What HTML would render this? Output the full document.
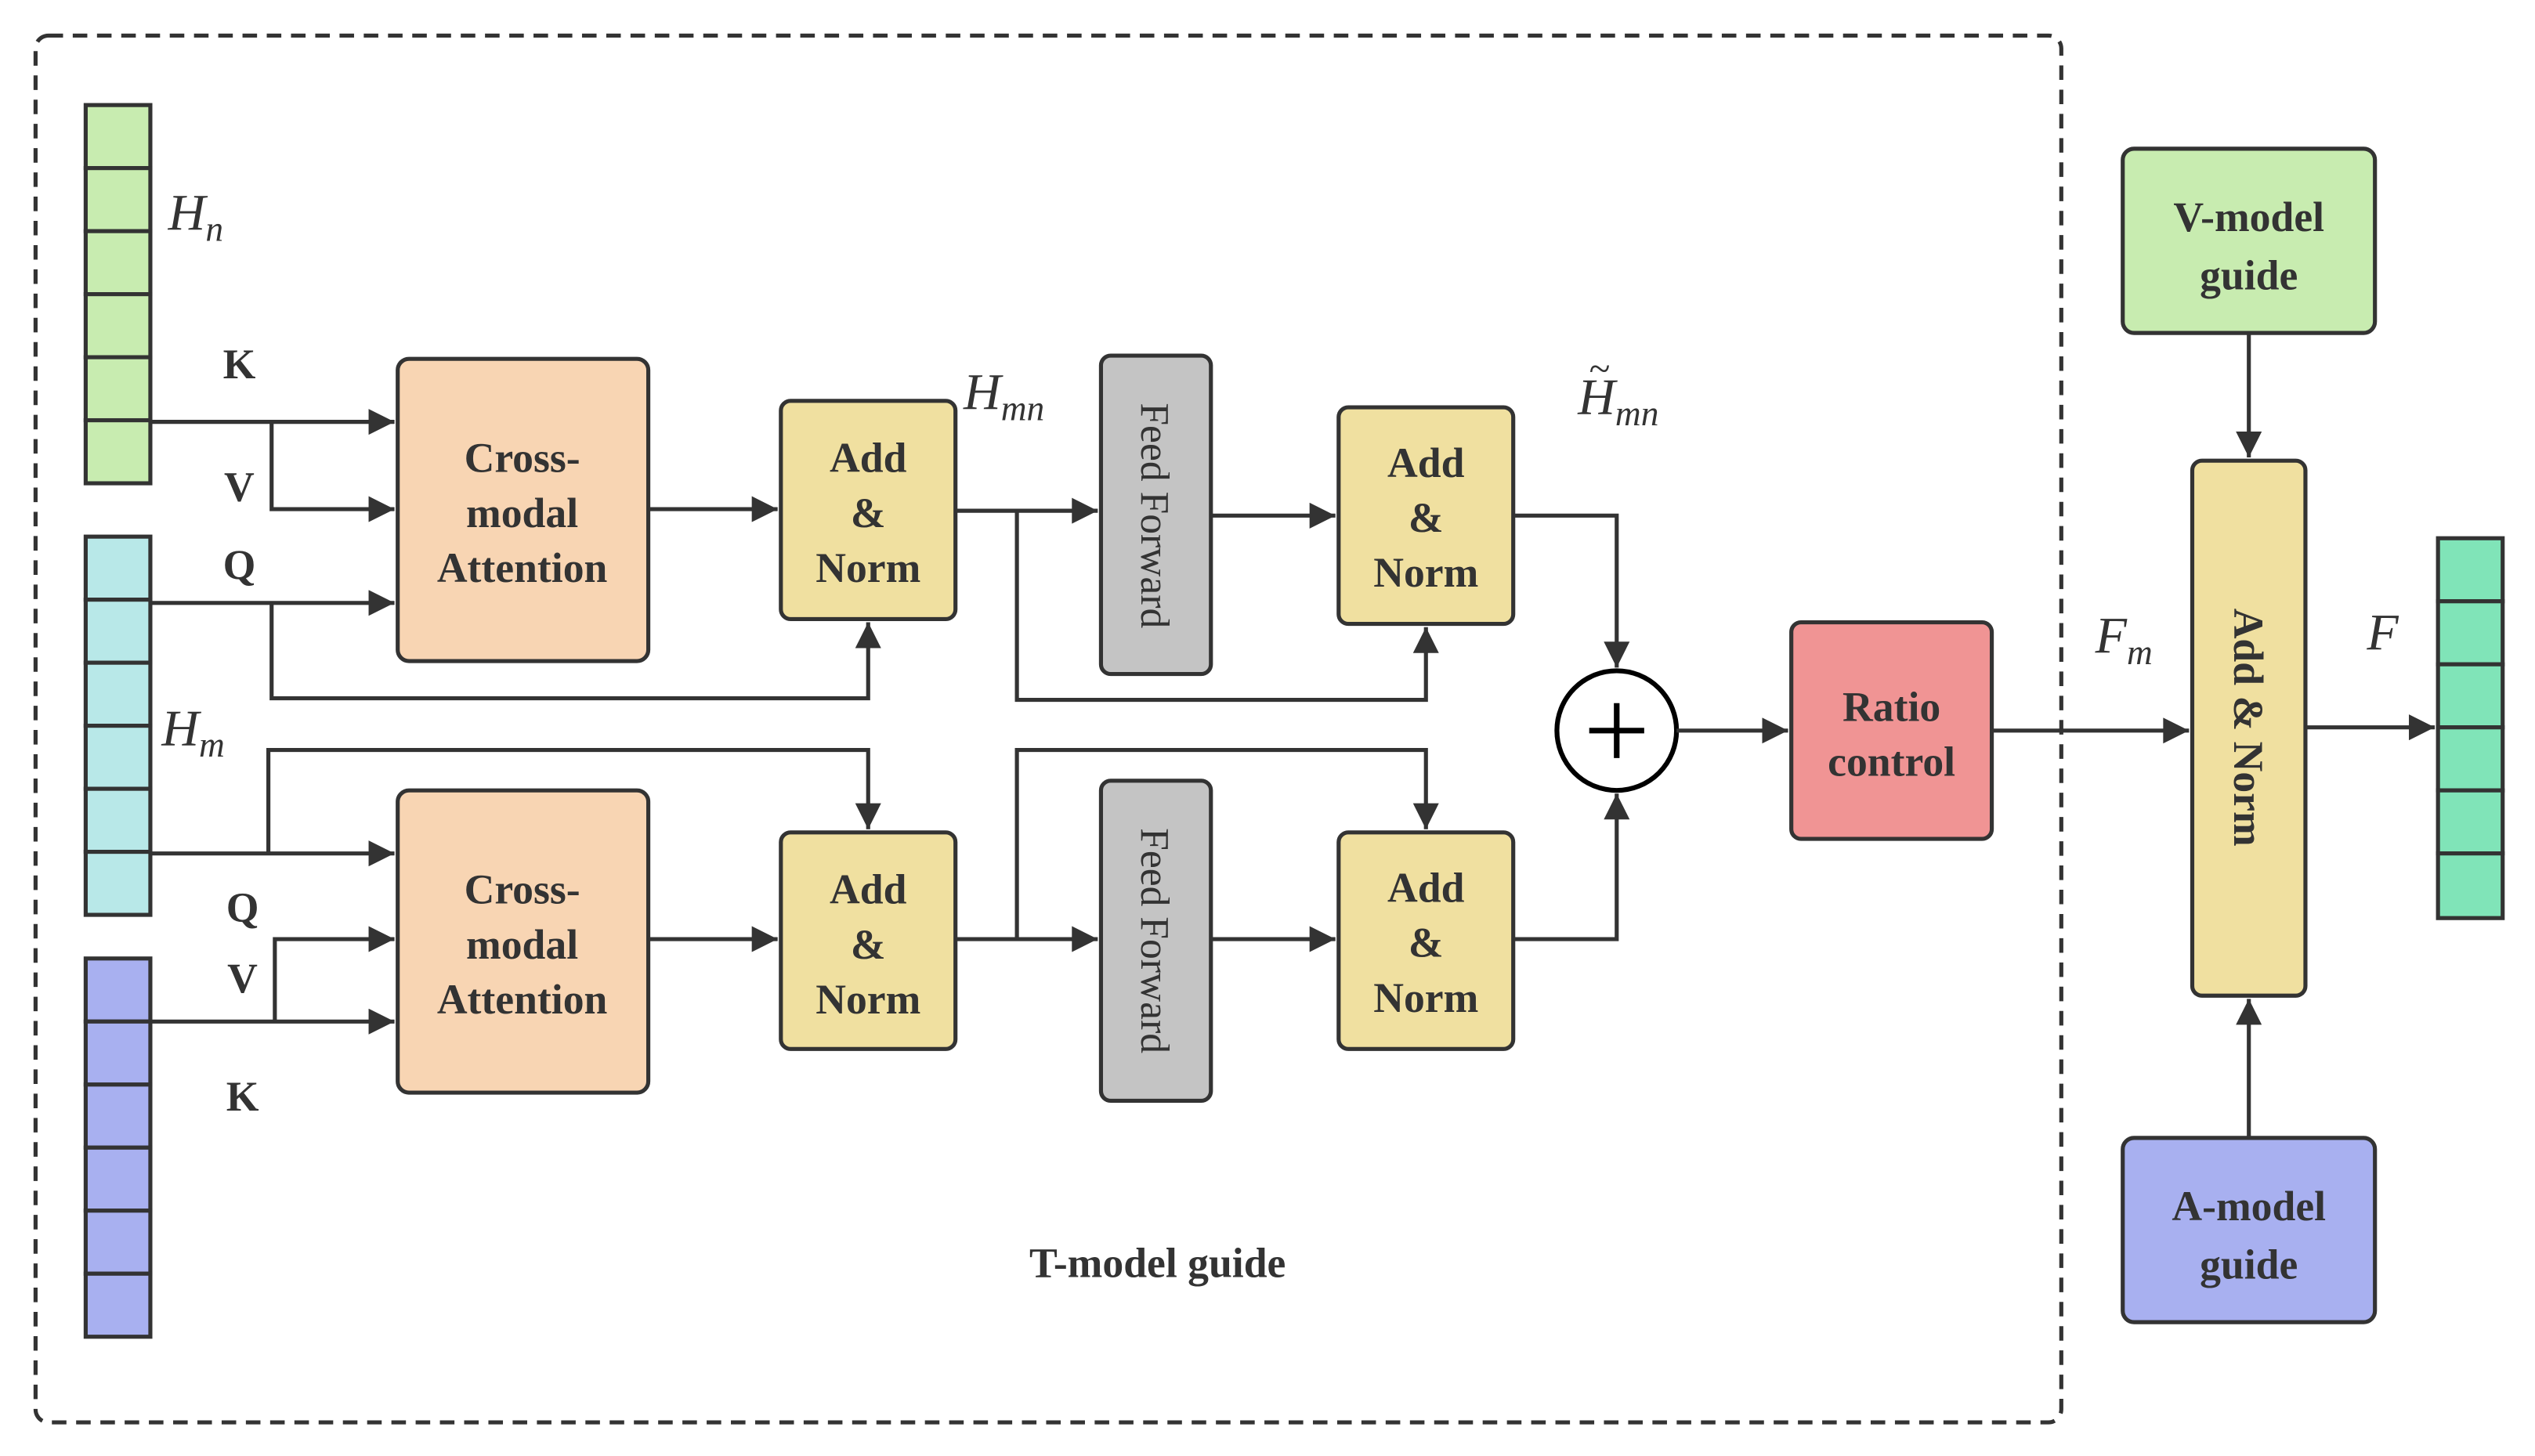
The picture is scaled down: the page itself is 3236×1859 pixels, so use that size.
<!DOCTYPE html>
<html><head><meta charset="utf-8"><style>
html,body{margin:0;padding:0;background:#fff;}
svg{display:block;}
text{font-family:"Liberation Serif",serif;fill:#333;}
.b{font-weight:bold;font-size:26px;}
.m{font-style:italic;font-size:32px;}
</style></head><body>
<svg width="3236" height="1859" viewBox="0 0 1568 900.8" preserveAspectRatio="none" xmlns="http://www.w3.org/2000/svg">
<defs>
<marker id="A" viewBox="0 0 10 10" refX="10" refY="5" markerWidth="20" markerHeight="16" orient="auto" markerUnits="userSpaceOnUse"><path d="M0,0 L10,5 L0,10 z" fill="#333"/></marker>
</defs>
<rect x="22" y="22" width="1253" height="858" rx="8" fill="none" stroke="#333" stroke-width="2.5" stroke-dasharray="9,6"/>
<g stroke="#333" stroke-width="2.5">
<g fill="#c8ecb0"><rect x="53" y="65" width="40" height="39"/><rect x="53" y="104" width="40" height="39"/><rect x="53" y="143" width="40" height="39"/><rect x="53" y="182" width="40" height="39"/><rect x="53" y="221" width="40" height="39"/><rect x="53" y="260" width="40" height="39"/></g>
<g fill="#b8e8e8"><rect x="53" y="332" width="40" height="39"/><rect x="53" y="371" width="40" height="39"/><rect x="53" y="410" width="40" height="39"/><rect x="53" y="449" width="40" height="39"/><rect x="53" y="488" width="40" height="39"/><rect x="53" y="527" width="40" height="39"/></g>
<g fill="#a8b0f0"><rect x="53" y="593" width="40" height="39"/><rect x="53" y="632" width="40" height="39"/><rect x="53" y="671" width="40" height="39"/><rect x="53" y="710" width="40" height="39"/><rect x="53" y="749" width="40" height="39"/><rect x="53" y="788" width="40" height="39"/></g>
<g fill="#80e4b8"><rect x="1508" y="333" width="40" height="39"/><rect x="1508" y="372" width="40" height="39"/><rect x="1508" y="411" width="40" height="39"/><rect x="1508" y="450" width="40" height="39"/><rect x="1508" y="489" width="40" height="39"/><rect x="1508" y="528" width="40" height="40"/></g>
<rect x="246" y="222" width="155" height="187" rx="7" fill="#f8d5b3"/>
<rect x="246" y="489" width="155" height="187" rx="7" fill="#f8d5b3"/>
<rect x="483" y="248" width="108" height="135" rx="6" fill="#f0e0a0"/>
<rect x="483" y="515" width="108" height="134" rx="6" fill="#f0e0a0"/>
<rect x="681" y="220" width="68" height="197" rx="6" fill="#c4c4c4"/>
<rect x="681" y="483" width="68" height="198" rx="6" fill="#c4c4c4"/>
<rect x="828" y="252" width="108" height="134" rx="6" fill="#f0e0a0"/>
<rect x="828" y="515" width="108" height="134" rx="6" fill="#f0e0a0"/>
<rect x="1108" y="385" width="124" height="134" rx="6" fill="#f09494"/>
<rect x="1313" y="92" width="156" height="114" rx="7" fill="#c8ecb0"/>
<rect x="1313" y="704" width="156" height="114" rx="7" fill="#a8b0f0"/>
<rect x="1356" y="285" width="70" height="331" rx="6" fill="#f0e0a0"/>
<circle cx="1000" cy="452" r="37" fill="#fff" stroke="#000" stroke-width="3"/>
<path d="M983,452 H1017 M1000,435 V469" stroke="#000" stroke-width="3.5"/>
<g fill="none">
<path d="M93,261 H244" marker-end="url(#A)"/>
<path d="M168,261 V315 H244" marker-end="url(#A)"/>
<path d="M93,373 H244" marker-end="url(#A)"/>
<path d="M168,373 V432 H537 V385" marker-end="url(#A)"/>
<path d="M93,528 H244" marker-end="url(#A)"/>
<path d="M166,528 V464 H537 V513" marker-end="url(#A)"/>
<path d="M93,632 H244" marker-end="url(#A)"/>
<path d="M170,632 V581 H244" marker-end="url(#A)"/>
<path d="M401,315 H481" marker-end="url(#A)"/>
<path d="M591,316 H679" marker-end="url(#A)"/>
<path d="M629,316 V433 H882 V388" marker-end="url(#A)"/>
<path d="M749,319 H826" marker-end="url(#A)"/>
<path d="M936,319 H1000 V413" marker-end="url(#A)"/>
<path d="M401,581 H481" marker-end="url(#A)"/>
<path d="M591,581 H679" marker-end="url(#A)"/>
<path d="M629,581 V464 H882 V513" marker-end="url(#A)"/>
<path d="M749,581 H826" marker-end="url(#A)"/>
<path d="M936,581 H1000 V491" marker-end="url(#A)"/>
<path d="M1037,452 H1106" marker-end="url(#A)"/>
<path d="M1232,452 H1354" marker-end="url(#A)"/>
<path d="M1426,450 H1506" marker-end="url(#A)"/>
<path d="M1391,206 V283" marker-end="url(#A)"/>
<path d="M1391,704 V618" marker-end="url(#A)"/>
</g>
</g>
<g class="b" text-anchor="middle">
<text x="323" y="292">Cross-</text><text x="323" y="326">modal</text><text x="323" y="360">Attention</text>
<text x="323" y="559">Cross-</text><text x="323" y="593">modal</text><text x="323" y="627">Attention</text>
<text x="537" y="292">Add</text><text x="537" y="326">&amp;</text><text x="537" y="360">Norm</text>
<text x="537" y="559">Add</text><text x="537" y="593">&amp;</text><text x="537" y="627">Norm</text>
<text x="882" y="295">Add</text><text x="882" y="329">&amp;</text><text x="882" y="363">Norm</text>
<text x="882" y="558">Add</text><text x="882" y="592">&amp;</text><text x="882" y="626">Norm</text>
<text x="1170" y="446">Ratio</text><text x="1170" y="480">control</text>
<text x="1391" y="143">V-model</text><text x="1391" y="179">guide</text>
<text x="1391" y="755">A-model</text><text x="1391" y="791">guide</text>
<text x="716" y="790">T-model guide</text>
<text x="148" y="234">K</text><text x="148" y="310">V</text><text x="148" y="358">Q</text>
<text x="150" y="570">Q</text><text x="150" y="614">V</text><text x="150" y="687">K</text>
</g>
<text font-size="25" text-anchor="middle" transform="translate(706,319) rotate(90)">Feed Forward</text>
<text font-size="25" text-anchor="middle" transform="translate(706,582) rotate(90)">Feed Forward</text>
<text class="b" text-anchor="middle" transform="translate(1382,450) rotate(90)">Add &amp; Norm</text>
<text class="m" x="104" y="142">H<tspan font-size="22" dy="7">n</tspan></text>
<text class="m" x="100" y="461">H<tspan font-size="22" dy="7">m</tspan></text>
<text class="m" x="596" y="253">H<tspan font-size="22" dy="7">mn</tspan></text>
<text class="m" x="976" y="256">H<tspan font-size="22" dy="7">mn</tspan></text>
<text font-size="24" x="983" y="236">~</text>
<text class="m" x="1296" y="404">F<tspan font-size="22" dy="7">m</tspan></text>
<text class="m" x="1464" y="402">F</text>
</svg>
</body></html>
